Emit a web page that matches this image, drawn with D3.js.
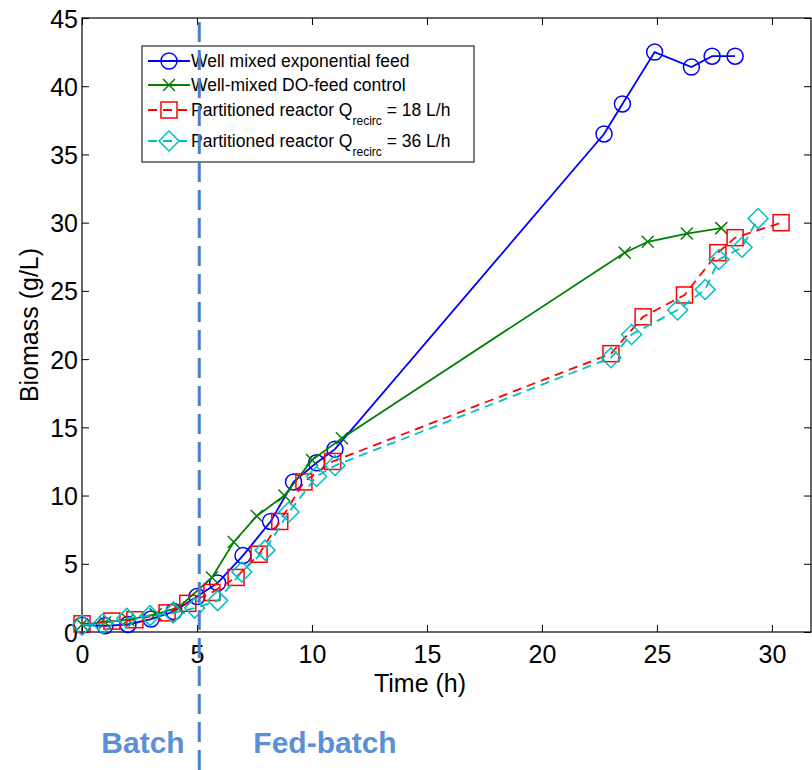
<!DOCTYPE html>
<html>
<head>
  <meta charset="utf-8">
  <title>Biomass vs time</title>
  <script src="https://cdn.jsdelivr.net/npm/d3@7"></script>
  <style>
    body { margin: 0; background: #fff; }
    svg text { font-family: "Liberation Sans", Arial, sans-serif; }
  </style>
</head>
<body>
<svg id="chart" width="812" height="770"></svg>
<script>
  // data
  var expTime = [0, 1, 2, 3, 4, 5, 5.9, 7, 8.2, 9.2, 10.2, 11, 22.7, 23.5, 24.9, 26.5, 27.4, 28.4];
  var expBio  = [0.5, 0.45, 0.55, 0.95, 1.5, 2.6, 3.6, 5.6, 8.1, 11.0, 12.4, 13.4, 36.5, 38.7, 42.5, 41.4, 42.2, 42.2];

  var doTime = [0, 1, 2, 3.2, 4.2, 5.65, 6.6, 7.6, 8.8, 10.0, 11.3, 23.6, 24.6, 26.3, 27.8];
  var doBio  = [0.55, 0.7, 0.9, 1.3, 1.8, 4.0, 6.6, 8.5, 10.0, 12.6, 14.2, 27.8, 28.6, 29.2, 29.6];

  var q18Time = [0, 1.3, 2.3, 3.7, 4.6, 5.65, 6.7, 7.7, 8.6, 9.65, 10.9, 23.0, 24.4, 26.2, 27.65, 28.4, 30.4];
  var q18Bio  = [0.6, 0.8, 0.9, 1.4, 2.1, 2.9, 4.0, 5.7, 8.1, 11.0, 12.5, 20.4, 23.1, 24.7, 27.8, 28.9, 30.0];

  var q36Time = [0, 0.9, 1.95, 2.96, 3.96, 4.9, 5.9, 6.95, 7.96, 9.0, 10.2, 11.0, 23.0, 23.9, 25.9, 27.1, 27.7, 28.7, 29.4];
  var q36Bio  = [0.5, 0.6, 1.0, 1.2, 1.4, 1.75, 2.3, 4.4, 6.0, 8.8, 11.4, 12.2, 20.1, 21.8, 23.6, 25.1, 27.3, 28.2, 30.3];

  var xTicks = [0, 5, 10, 15, 20, 25, 30];
  var yTicks = [0, 5, 10, 15, 20, 25, 30, 35, 40, 45];
  var phaseSwitch = 5.1;

  var plotL = 82, plotT = 18, plotR = 811, plotB = 632;

  var x = d3.scaleLinear().domain([0, 31.7]).range([plotL, plotR]);
  var y = d3.scaleLinear().domain([0, 45]).range([plotB, plotT]);

  var svg = d3.select("#chart");

  // plot box
  svg.append("rect")
    .attr("x", plotL).attr("y", plotT)
    .attr("width", plotR - plotL).attr("height", plotB - plotT)
    .attr("fill", "none").attr("stroke", "#000").attr("stroke-width", 1.2);

  // axes with inward ticks
  var xAxis = svg.append("g").attr("transform", "translate(0," + plotB + ")")
    .call(d3.axisBottom(x).tickValues(xTicks).tickSizeInner(-7).tickSizeOuter(0).tickPadding(13));
  var xTop = svg.append("g").attr("transform", "translate(0," + plotT + ")")
    .call(d3.axisTop(x).tickValues(xTicks).tickSizeInner(-7).tickSizeOuter(0).tickFormat(""));
  var yAxis = svg.append("g").attr("transform", "translate(" + plotL + ",0)")
    .call(d3.axisLeft(y).tickValues(yTicks).tickSizeInner(-7).tickSizeOuter(0).tickPadding(4));
  var yRight = svg.append("g").attr("transform", "translate(" + plotR + ",0)")
    .call(d3.axisRight(y).tickValues(yTicks).tickSizeInner(-7).tickSizeOuter(0).tickFormat(""));

  [xAxis, xTop, yAxis, yRight].forEach(function(g) {
    g.select(".domain").remove();
    g.selectAll("line").attr("stroke", "#000").attr("stroke-width", 1);
    g.selectAll("text").attr("fill", "#000").style("font-size", "25px")
      .style("font-family", "'Liberation Sans', Arial, sans-serif");
  });
  yAxis.selectAll("text").attr("dy", "0.36em");

  svg.append("text").attr("x", 420).attr("y", 692).attr("text-anchor", "middle")
    .style("font-size", "25px").text("Time (h)");
  svg.append("text").attr("transform", "translate(38,325) rotate(-90)").attr("text-anchor", "middle")
    .style("font-size", "25px").text("Biomass (g/L)");

  var series = [
    { name: "Well mixed exponential feed", t: expTime, v: expBio, color: "#0000ff", dash: null, marker: "circle" },
    { name: "Well-mixed DO-feed control", t: doTime, v: doBio, color: "#008000", dash: null, marker: "x" },
    { name: "Partitioned reactor Q", sub: "recirc", tail: " = 18 L/h", t: q18Time, v: q18Bio, color: "#ff0000", dash: "9,6", marker: "square" },
    { name: "Partitioned reactor Q", sub: "recirc", tail: " = 36 L/h", t: q36Time, v: q36Bio, color: "#00bfbf", dash: "9,6", marker: "diamond" }
  ];

  function drawMarker(g, kind, color) {
    if (kind === "circle") {
      g.append("circle").attr("r", 8).attr("fill", "none").attr("stroke", color).attr("stroke-width", 1.5);
    } else if (kind === "square") {
      g.append("rect").attr("x", -8).attr("y", -8).attr("width", 16).attr("height", 16)
        .attr("fill", "none").attr("stroke", color).attr("stroke-width", 1.5);
    } else if (kind === "diamond") {
      g.append("path").attr("d", "M0,-10L10,0L0,10L-10,0Z")
        .attr("fill", "none").attr("stroke", color).attr("stroke-width", 1.5);
    } else {
      g.append("path").attr("d", "M-6,-6L6,6M-6,6L6,-6")
        .attr("fill", "none").attr("stroke", color).attr("stroke-width", 1.5);
    }
  }

  var line = d3.line().x(function(d) { return x(d[0]); }).y(function(d) { return y(d[1]); });

  series.forEach(function(s) {
    var pts = s.t.map(function(t, i) { return [t, s.v[i]]; });
    svg.append("path").datum(pts).attr("d", line)
      .attr("fill", "none").attr("stroke", s.color).attr("stroke-width", 1.8)
      .attr("stroke-dasharray", s.dash);
    svg.append("g").selectAll("g").data(pts).enter().append("g")
      .attr("transform", function(d) { return "translate(" + x(d[0]) + "," + y(d[1]) + ")"; })
      .each(function() { drawMarker(d3.select(this), s.marker, s.color); });
  });

  // legend
  var legend = svg.append("g");
  legend.append("rect").attr("x", 142).attr("y", 46).attr("width", 332).attr("height", 116)
    .attr("fill", "#fff").attr("stroke", "#000").attr("stroke-width", 1);
  var legY = [61, 85, 110, 141];
  series.forEach(function(s, i) {
    var g = legend.append("g").attr("transform", "translate(0," + legY[i] + ")");
    g.append("line").attr("x1", 148).attr("x2", 190).attr("y1", 0).attr("y2", 0)
      .attr("stroke", s.color).attr("stroke-width", 1.8).attr("stroke-dasharray", s.dash ? "9,6" : null);
    drawMarker(g.append("g").attr("transform", "translate(169,0)"), s.marker, s.color);
    var txt = g.append("text").attr("x", 191).attr("y", 6).style("font-size", "17.5px").attr("fill", "#000");
    txt.append("tspan").text(s.name);
    if (s.sub) {
      txt.append("tspan").attr("dy", 9).style("font-size", "12px").text(s.sub);
      txt.append("tspan").attr("dy", -9).text(s.tail);
    }
  });

  // batch / fed-batch divider
  svg.append("line").attr("x1", x(phaseSwitch)).attr("x2", x(phaseSwitch)).attr("y1", 22).attr("y2", 770)
    .attr("stroke", "#4a7ec6").attr("stroke-width", 3).attr("stroke-dasharray", "20,8");
  svg.append("text").attr("x", 143).attr("y", 753).attr("text-anchor", "middle")
    .style("font-size", "30px").style("font-weight", "bold").attr("fill", "#5b8fd6").text("Batch");
  svg.append("text").attr("x", 325).attr("y", 753).attr("text-anchor", "middle")
    .style("font-size", "30px").style("font-weight", "bold").attr("fill", "#5b8fd6").text("Fed-batch");
</script>
</body>
</html>
